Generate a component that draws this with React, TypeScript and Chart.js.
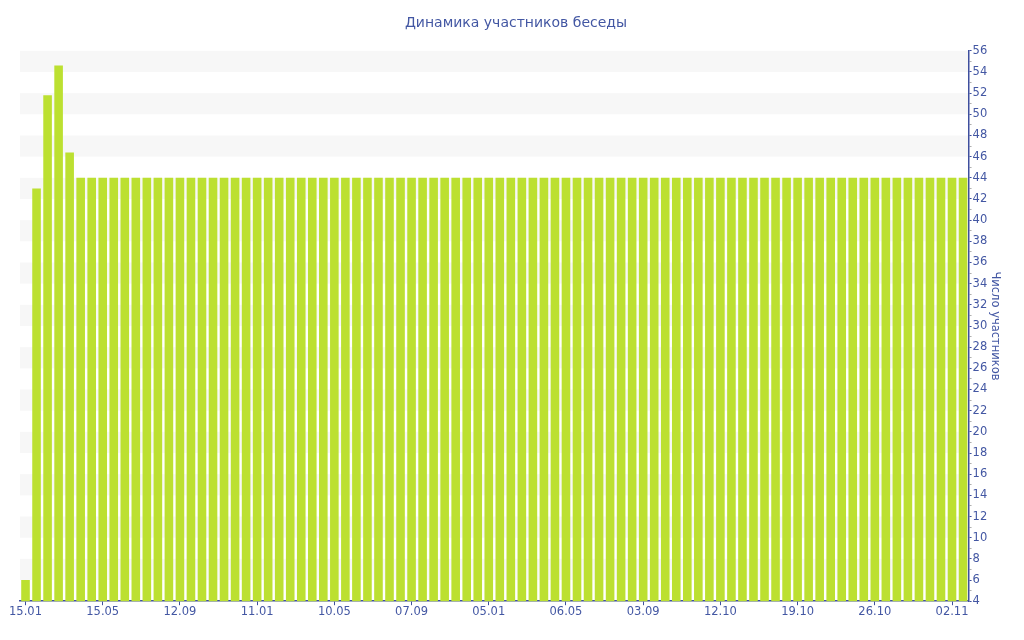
import React, { useEffect, useRef } from "react";
import { Chart, registerables } from "chart.js";

Chart.register(...registerables);

const chartTitle = "Динамика участников беседы";
const yAxisTitle = "Число участников";

const categories: string[] = [
  "15.01", "02.02", "19.02", "08.03", "25.03", "11.04", "28.04",
  "15.05", "01.06", "18.06", "05.07", "22.07", "08.08", "25.08",
  "12.09", "29.09", "16.10", "02.11", "19.11", "06.12", "23.12",
  "11.01", "28.01", "14.02", "03.03", "20.03", "06.04", "23.04",
  "10.05", "27.05", "13.06", "30.06", "17.07", "03.08", "20.08",
  "07.09", "24.09", "11.10", "28.10", "14.11", "01.12", "18.12",
  "05.01", "22.01", "08.02", "25.02", "14.03", "31.03", "17.04",
  "06.05", "23.05", "09.06", "26.06", "13.07", "30.07", "16.08",
  "03.09", "09.09", "15.09", "21.09", "27.09", "02.10", "07.10",
  "12.10", "13.10", "14.10", "15.10", "16.10", "17.10", "18.10",
  "19.10", "20.10", "21.10", "22.10", "23.10", "24.10", "25.10",
  "26.10", "27.10", "28.10", "29.10", "30.10", "31.10", "01.11",
  "02.11", "03.11",
];

const participants: number[] = [
  6, 43, 51.8, 54.6, 46.4, 44, 44, 44, 44, 44,
  44, 44, 44, 44, 44, 44, 44, 44, 44, 44,
  44, 44, 44, 44, 44, 44, 44, 44, 44, 44,
  44, 44, 44, 44, 44, 44, 44, 44, 44, 44,
  44, 44, 44, 44, 44, 44, 44, 44, 44, 44,
  44, 44, 44, 44, 44, 44, 44, 44, 44, 44,
  44, 44, 44, 44, 44, 44, 44, 44, 44, 44,
  44, 44, 44, 44, 44, 44, 44, 44, 44, 44,
  44, 44, 44, 44, 44, 44,
];

const yMin = 4;
const yMax = 56;
const labelEvery = 7;

const blueText = "#4357a3";
const blueAxis = "#3e4f9e";
const barColor = "#bce031";
const bandColor = "#f7f7f7";

const bandsPlugin = {
  id: "bands",
  beforeDraw(chart: any) {
    const { ctx, chartArea } = chart;
    const y = chart.scales.y;
    ctx.save();
    ctx.fillStyle = bandColor;
    for (let v = yMax - 2; v >= yMin; v -= 4) {
      const top = y.getPixelForValue(v + 2);
      const bottom = y.getPixelForValue(v);
      ctx.fillRect(chartArea.left, top, chartArea.right - chartArea.left, bottom - top);
    }
    ctx.restore();
  },
};

export default function App() {
  const ref = useRef<HTMLCanvasElement | null>(null);

  useEffect(() => {
    if (!ref.current) return;
    const chart = new Chart(ref.current, {
      type: "bar",
      data: {
        labels: categories,
        datasets: [
          {
            data: participants,
            backgroundColor: barColor,
            borderWidth: 0,
            barPercentage: 0.78,
            categoryPercentage: 1,
          },
        ],
      },
      options: {
        animation: false,
        responsive: true,
        maintainAspectRatio: false,
        layout: { padding: { left: 20, right: 12, top: 4, bottom: 21 } },
        plugins: {
          legend: { display: false },
          tooltip: { enabled: false },
          title: {
            display: true,
            text: chartTitle,
            color: blueText,
            font: { family: "DejaVu Sans", size: 14, weight: "normal" },
            padding: { top: 11, bottom: 19 },
          },
        },
        scales: {
          x: {
            type: "category",
            offset: true,
            grid: {
              display: true,
              drawOnChartArea: false,
              offset: false,
              tickLength: 4,
              color: (c: any) => (c.index % labelEvery === 0 ? blueAxis : "transparent"),
            },
            border: { display: true, color: blueAxis, width: 1.5 },
            ticks: {
              autoSkip: false,
              maxRotation: 0,
              minRotation: 0,
              padding: 0,
              color: blueText,
              font: { family: "DejaVu Sans", size: 11.5 },
              callback: (_v: any, i: number) => (i % labelEvery === 0 ? categories[i] : ""),
            },
          },
          y: {
            position: "right",
            min: yMin,
            max: yMax,
            grid: {
              display: true,
              drawOnChartArea: false,
              tickLength: 3,
              color: (c: any) => (c.tick && c.tick.value % 2 === 0 ? blueAxis : "#b0b0b0"),
            },
            border: { display: true, color: blueAxis, width: 1.5 },
            ticks: {
              stepSize: 1,
              autoSkip: false,
              padding: 1,
              color: blueText,
              font: { family: "DejaVu Sans", size: 11.5 },
              callback: (v: any) => (Number(v) % 2 === 0 ? String(v) : ""),
            },
            title: {
              display: true,
              text: yAxisTitle,
              color: blueText,
              font: { family: "DejaVu Sans", size: 11.5 },
              padding: { top: 10, bottom: 0 },
            },
          },
        },
      },
      plugins: [bandsPlugin],
    });
    return () => chart.destroy();
  }, []);

  return (
    <div style={{ position: "absolute", left: 0, top: 0, width: 1024, height: 640, background: "#fff" }}>
      <canvas ref={ref} />
    </div>
  );
}
